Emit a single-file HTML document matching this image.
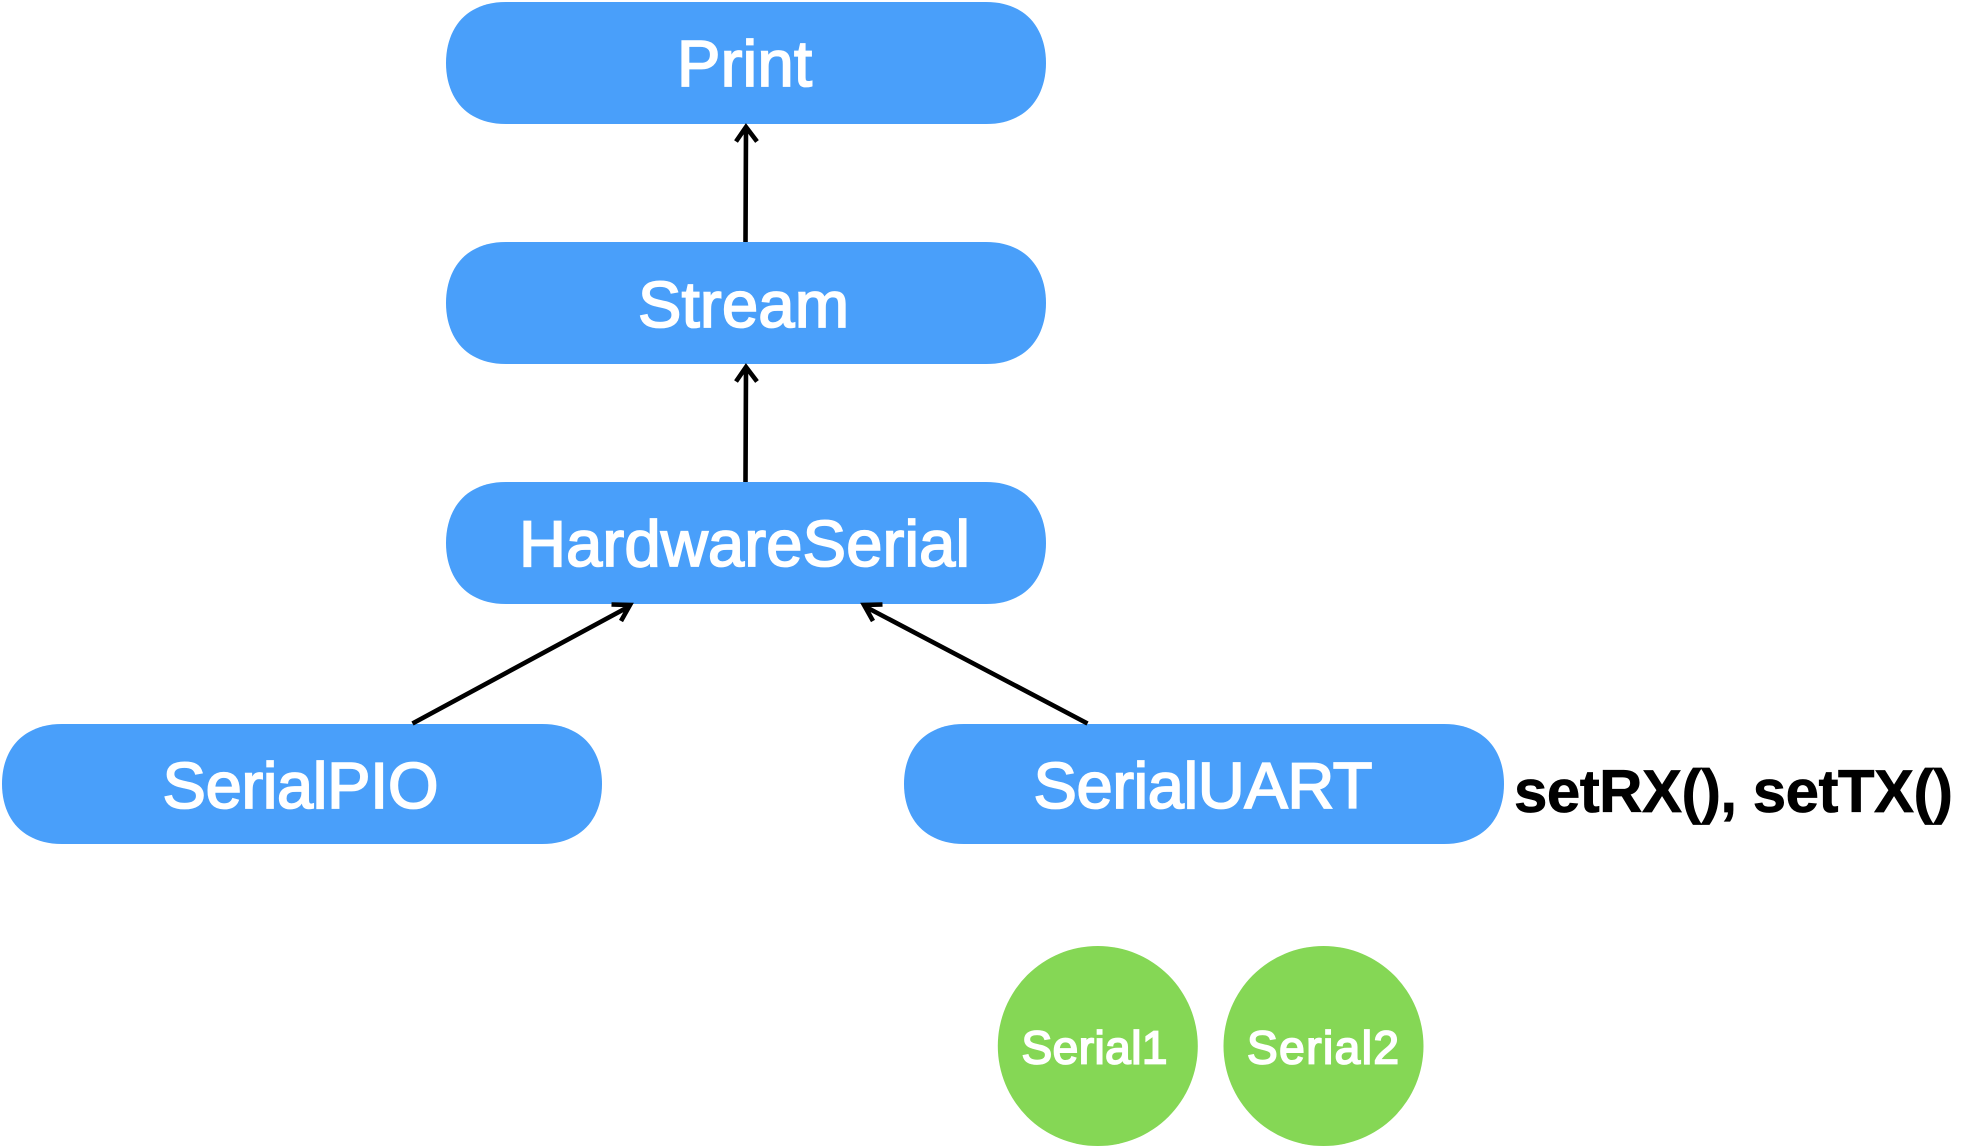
<!DOCTYPE html>
<html><head><meta charset="utf-8"><title>Serial class diagram</title>
<style>html,body{margin:0;padding:0;background:#fff}svg{display:block}
text{font-family:"Liberation Sans",sans-serif}
.w{fill:#fff;stroke:#fff;stroke-width:1.8}
.b{font-size:65px}.s{font-size:46px}
.a{fill:none;stroke:#000;stroke-width:4.6;stroke-linecap:butt}
</style></head><body>
<svg width="1964" height="1148" viewBox="0 0 1964 1148" xmlns="http://www.w3.org/2000/svg">
<rect width="1964" height="1148" fill="#fff"/>
<g fill="#499ffa">
<path d="M506 2H986c14,0 24,3 33,8c17,9.500 27,29 27,53c0,24 -10,43.500 -27,53c-9,5 -19,8 -33,8H506c-14,0 -24,-3 -33,-8c-17,-9.500 -27,-29 -27,-53c0,-24 10,-43.500 27,-53c9,-5 19,-8 33,-8z"/>
<path d="M506 242H986c14,0 24,3 33,8c17,9.500 27,29 27,53c0,24 -10,43.500 -27,53c-9,5 -19,8 -33,8H506c-14,0 -24,-3 -33,-8c-17,-9.500 -27,-29 -27,-53c0,-24 10,-43.500 27,-53c9,-5 19,-8 33,-8z"/>
<path d="M506 482H986c14,0 24,3 33,8c17,9.500 27,29 27,53c0,24 -10,43.500 -27,53c-9,5 -19,8 -33,8H506c-14,0 -24,-3 -33,-8c-17,-9.500 -27,-29 -27,-53c0,-24 10,-43.500 27,-53c9,-5 19,-8 33,-8z"/>
<path d="M62 724H542c14,0 24,3 33,8c17,9.500 27,28 27,52c0,24 -10,42.500 -27,52c-9,5 -19,8 -33,8H62c-14,0 -24,-3 -33,-8c-17,-9.500 -27,-28 -27,-52c0,-24 10,-42.500 27,-52c9,-5 19,-8 33,-8z"/>
<path d="M964 724H1444c14,0 24,3 33,8c17,9.500 27,28 27,52c0,24 -10,42.500 -27,52c-9,5 -19,8 -33,8H964c-14,0 -24,-3 -33,-8c-17,-9.500 -27,-28 -27,-52c0,-24 10,-42.500 27,-52c9,-5 19,-8 33,-8z"/>
</g>
<g fill="#85d755">
<circle cx="1097.800" cy="1046" r="100"/>
<circle cx="1323.500" cy="1046" r="100"/>
</g>
<g class="a">
<path d="M745.500 242L746 127M736 141.500L746 127L757 141.500"/>
<path d="M745.500 482L746 367M736 381.500L746 367L757 381.500"/>
<path d="M412.500 723.500L630 606M611.500 604.500L630 605L621 621"/>
<path d="M1087.500 723.500L864 606M882.500 604.500L864 605L873 621"/>
</g>
<g class="w b">
<text x="677" y="86" textLength="135">Print</text>
<text x="638" y="327" textLength="211">Stream</text>
<text x="519" y="566" textLength="451">HardwareSerial</text>
<text x="162.500" y="808" textLength="276">SerialPIO</text>
<text x="1033.500" y="808" textLength="339">SerialUART</text>
</g>
<g class="w s">
<text x="1021.500" y="1063.500" textLength="146">Serial1</text>
<text x="1247" y="1063.500" textLength="152">Serial2</text>
</g>
<text x="1514" y="812" font-size="60" font-weight="700" fill="#000" stroke="#000" stroke-width=".7" textLength="439">setRX(), setTX()</text>
</svg>
</body></html>
